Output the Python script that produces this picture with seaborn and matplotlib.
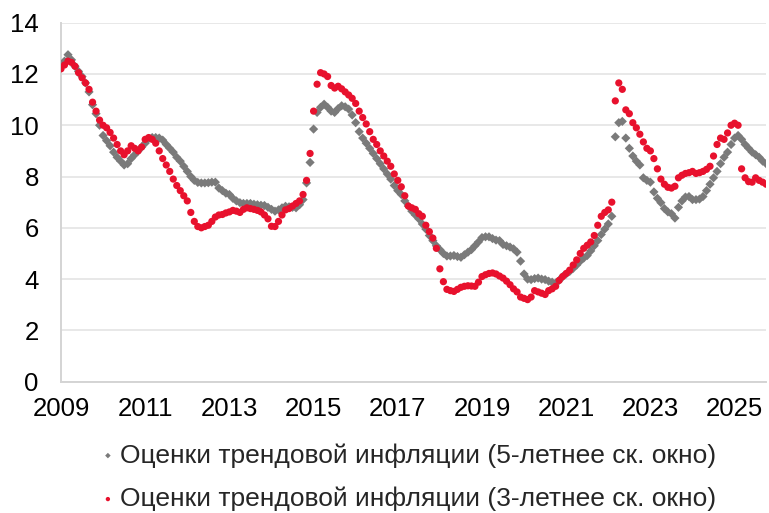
import numpy as np
import pandas as pd
import seaborn as sns
import matplotlib.pyplot as plt

# Monthly estimates, Jan 2009 .. Oct 2025
trend_5y = [
    # 2009
    12.3, 12.5, 12.75, 12.55, 12.3, 12.1, 11.9, 11.65, 11.3, 10.8, 10.45, 10.0,
    # 2010
    9.6, 9.4, 9.2, 8.95, 8.75, 8.6, 8.45, 8.5, 8.7, 8.85, 9.0, 9.15,
    # 2011
    9.3, 9.48, 9.52, 9.52, 9.5, 9.42, 9.25, 9.1, 8.95, 8.75, 8.6, 8.4,
    # 2012
    8.2, 8.0, 7.85, 7.77, 7.75, 7.75, 7.76, 7.78, 7.78, 7.55, 7.45, 7.35,
    # 2013
    7.3, 7.15, 7.05, 6.98, 6.95, 6.95, 6.95, 6.92, 6.9, 6.88, 6.87, 6.8,
    # 2014
    6.72, 6.65, 6.7, 6.78, 6.84, 6.82, 6.8, 6.78, 6.9, 7.1, 7.75, 8.55,
    # 2015
    9.85, 10.5, 10.7, 10.82, 10.7, 10.55, 10.5, 10.65, 10.76, 10.72, 10.63, 10.4,
    # 2016
    10.1, 9.75, 9.5, 9.3, 9.1, 8.9, 8.7, 8.5, 8.3, 8.1, 7.9, 7.65,
    # 2017
    7.45, 7.3, 7.05, 6.85, 6.65, 6.5, 6.35, 6.15, 5.95, 5.7, 5.5, 5.3,
    # 2018
    5.15, 5.0, 4.9, 4.9, 4.92, 4.88, 4.85, 4.95, 5.05, 5.15, 5.3, 5.45,
    # 2019
    5.62, 5.65, 5.65, 5.58, 5.52, 5.5, 5.35, 5.3, 5.25, 5.18, 5.05, 4.7,
    # 2020
    4.2, 4.0, 3.98, 4.02, 4.04, 4.0, 3.98, 3.92, 3.88, 3.85, 3.95, 4.1,
    # 2021
    4.2, 4.3, 4.42, 4.55, 4.7, 4.82, 4.92, 5.1, 5.3, 5.5, 5.74, 5.95,
    # 2022
    6.15, 6.45, 9.55, 10.1, 10.15, 9.5, 9.1, 8.8, 8.6, 8.45, 7.95, 7.85,
    # 2023
    7.78, 7.4, 7.15, 6.98, 6.75, 6.62, 6.55, 6.38, 6.8, 7.05, 7.2, 7.22,
    # 2024
    7.1, 7.1, 7.12, 7.22, 7.45, 7.7, 7.95, 8.2, 8.5, 8.75, 8.95, 9.25,
    # 2025
    9.5, 9.6, 9.45, 9.25, 9.1, 8.95, 8.85, 8.75, 8.6, 8.5,
]

trend_3y = [
    # 2009
    12.2, 12.35, 12.5, 12.45, 12.3, 12.05, 11.85, 11.65, 11.4, 10.9, 10.55, 10.2,
    # 2010
    10.0, 9.9, 9.72, 9.5, 9.25, 9.0, 8.85, 9.0, 9.2, 9.1, 9.0, 9.15,
    # 2011
    9.45, 9.52, 9.45, 9.3, 9.0, 8.7, 8.45, 8.2, 7.9, 7.65, 7.45, 7.25,
    # 2012
    7.05, 6.6, 6.25, 6.05, 6.0, 6.05, 6.1, 6.25, 6.42, 6.5, 6.52, 6.58,
    # 2013
    6.62, 6.68, 6.65, 6.6, 6.72, 6.78, 6.75, 6.72, 6.68, 6.62, 6.5, 6.35,
    # 2014
    6.06, 6.05, 6.25, 6.5, 6.7, 6.75, 6.85, 6.95, 7.05, 7.3, 7.85, 8.9,
    # 2015
    10.55, 11.6, 12.05, 12.0, 11.9, 11.55, 11.45, 11.52, 11.42, 11.3, 11.18, 11.05,
    # 2016
    10.85, 10.55, 10.3, 10.05, 9.75, 9.45, 9.25, 9.0, 8.8, 8.6, 8.4, 8.1,
    # 2017
    7.85, 7.6, 7.25, 6.85, 6.78, 6.72, 6.55, 6.45, 6.1, 5.85, 5.6, 5.2,
    # 2018
    4.4, 3.9, 3.6, 3.55, 3.52, 3.6, 3.68, 3.72, 3.74, 3.73, 3.72, 3.88,
    # 2019
    4.1, 4.17, 4.22, 4.24, 4.2, 4.12, 4.04, 3.92, 3.78, 3.62, 3.5, 3.3,
    # 2020
    3.25, 3.2, 3.3, 3.55, 3.5, 3.45, 3.4, 3.55, 3.62, 3.72, 3.95, 4.1,
    # 2021
    4.22, 4.35, 4.55, 4.75, 5.0, 5.2, 5.32, 5.45, 5.7, 6.1, 6.45, 6.6,
    # 2022
    6.7, 7.0, 10.95, 11.65, 11.4, 10.6, 10.45, 10.1, 9.9, 9.65, 9.35, 9.1,
    # 2023
    9.0, 8.7, 8.3, 7.9, 7.7, 7.58, 7.55, 7.62, 7.95, 8.05, 8.12, 8.15,
    # 2024
    8.2, 8.12, 8.15, 8.2, 8.28, 8.4, 8.8, 9.25, 9.5, 9.45, 9.7, 10.0,
    # 2025
    10.08, 10.0, 8.3, 7.95, 7.8, 7.78, 7.95, 7.85, 7.78, 7.7,
]

label_5y = "Оценки трендовой инфляции (5-летнее ск. окно)"
label_3y = "Оценки трендовой инфляции (3-летнее ск. окно)"
year_ticks = [2009, 2011, 2013, 2015, 2017, 2019, 2021, 2023, 2025]

months = np.arange(len(trend_5y))
df = pd.DataFrame({
    "date": 2009 + months / 12,
    "t5": trend_5y,
    "t3": trend_3y,
})

sns.set_style("white")
plt.rcParams["font.family"] = ["Liberation Sans", "DejaVu Sans"]

fig = plt.figure(figsize=(7.69, 5.13), dpi=100)
ax = fig.add_axes([0.0793, 0.256, 0.917, 0.6998])

sns.scatterplot(data=df, x="date", y="t5", ax=ax, marker="D", s=22,
                color="#7a7a7a", edgecolor="none", label=label_5y, zorder=3)
sns.scatterplot(data=df, x="date", y="t3", ax=ax, marker="o", s=27,
                color="#e8112d", edgecolor="none", label=label_3y, zorder=4)

ax.set_xlim(2009, 2025 + 9 / 12)
ax.set_ylim(0, 14)
ax.set_xticks(year_ticks)
ax.set_yticks(range(0, 15, 2))
ax.set_xlabel("")
ax.set_ylabel("")
ax.grid(axis="y", color="#e6e6e6", linewidth=1.3)
ax.set_axisbelow(True)
for side in ["top", "right"]:
    ax.spines[side].set_visible(False)
for side in ["left", "bottom"]:
    ax.spines[side].set_color("#d4d4d4")
    ax.spines[side].set_linewidth(1.4)
ax.tick_params(axis="both", length=5, width=1.3, color="#d4d4d4",
               labelsize=18.5, labelcolor="#000000")
ax.tick_params(axis="y", pad=11)
ax.tick_params(axis="x", pad=6)

handles, labels = ax.get_legend_handles_labels()
ax.get_legend().remove()
fig.legend(handles, labels, loc="upper left", bbox_to_anchor=(0.118, 0.157),
           frameon=False, fontsize=19, markerscale=0.6, handlelength=0.5,
           handletextpad=0.2, labelspacing=0.72, borderaxespad=0)

fig.savefig("out.png", dpi=100)
